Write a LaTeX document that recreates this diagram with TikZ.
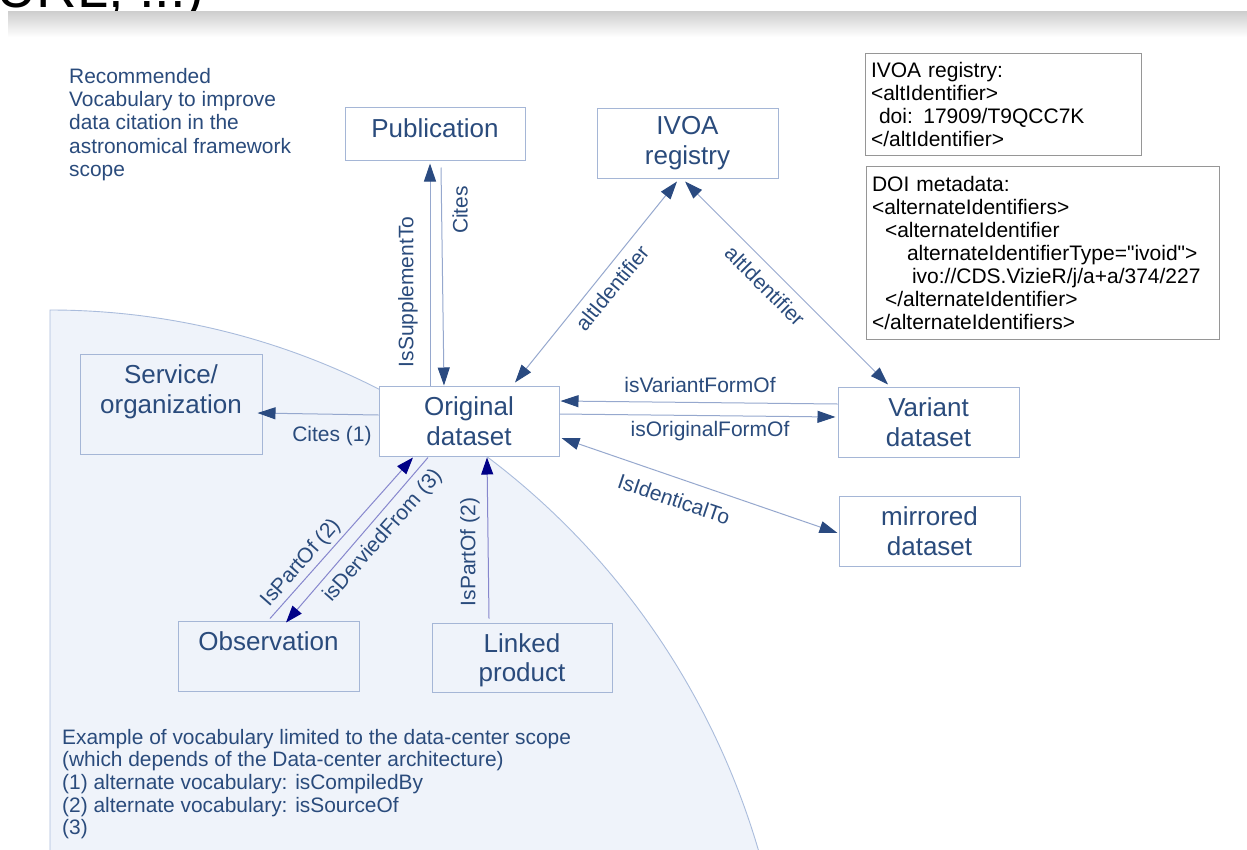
\documentclass[tikz,border=0pt]{standalone}
\usepackage{fontspec}
\setmainfont{Liberation Sans}
\newfontfamily\infofont{Liberation Sans}
\usetikzlibrary{arrows.meta,calc}
\definecolor{tblue}{RGB}{42,75,124}
\definecolor{bord}{RGB}{165,182,214}
\definecolor{regfill}{RGB}{239,243,250}
\definecolor{regedge}{RGB}{170,188,220}
\definecolor{linec}{RGB}{150,168,206}
\definecolor{headc}{RGB}{42,74,128}
\definecolor{navyl}{RGB}{135,135,205}
\definecolor{navyh}{RGB}{0,0,135}
\definecolor{infobord}{RGB}{150,150,150}
\definecolor{bandtop}{RGB}{205,205,205}
\begin{document}
\begin{tikzpicture}[x=1pt,y=-1pt,
  box/.style={draw=bord, line width=1pt, inner sep=0pt, align=center, text=tblue, font=\fontsize{26}{29.5}\selectfont},
  infobox/.style={draw=infobord, line width=1pt, fill=white, inner xsep=6pt, inner ysep=0pt, align=left, text=black, font=\infofont\fontsize{21}{23}\selectfont},
  lbl/.style={text=tblue, font=\fontsize{21}{23}\selectfont, inner sep=0pt},
  conn/.style={draw=linec, line width=1pt},
  nconn/.style={draw=navyl, line width=1pt},
  hd/.style={-{Triangle[length=18pt,width=12pt,color=headc]}},
  dhd/.style={{Triangle[length=18pt,width=12pt,color=headc]}-{Triangle[length=18pt,width=12pt,color=headc]}},
  nhd/.style={-{Triangle[length=17pt,width=12pt,color=navyh]}}
]
\useasboundingbox (0,0) rectangle (1247,849);
\fill[white] (0,0) rectangle (1247,849);

% title remnant and band
\node[anchor=base west, inner sep=0pt, text=black, font=\fontsize{56}{56}\selectfont] (title) at (-4,7) {URL, ...)};
\shade[top color=bandtop, bottom color=white] (8,11) rectangle (1247,37);

% data-center region
\fill[regfill] (50,940) -- (50,310) arc[start angle=-90, end angle=-10, x radius=740, y radius=760] -- cycle;
\draw[regedge, line width=0.9pt] (50,940) -- (50,310) arc[start angle=-90, end angle=-10, x radius=740, y radius=760];

% texts
\node[anchor=north west, inner sep=0pt, align=left, text=tblue, font=\fontsize{20.9}{23.3}\selectfont] (intro) at (69,68) {Recommended\\Vocabulary to improve\\data citation in the\\astronomical framework\\scope};
\node[anchor=north west, inner sep=0pt, align=left, text=tblue, font=\fontsize{20.9}{22.6}\selectfont] (note) at (62,729) {Example of vocabulary limited to the data-center scope\\(which depends of the Data-center architecture)\\(1) alternate vocabulary: isCompiledBy\\(2) alternate vocabulary: isSourceOf\\(3)};

% boxes
\node[box, minimum width=180pt, minimum height=53pt] (pub) at (435,133.5) {};
\node[box, draw=none] (pubt) at (435,128) {Publication};
\node[box, minimum width=181pt, minimum height=70pt] (ivoa) at (687.5,143) {IVOA\\registry};
\node[box, fill=white, minimum width=180pt, minimum height=70pt] (orig) at (469,421) {Original\\dataset};
\node[box, minimum width=182pt, minimum height=100pt] (serv) at (171,404) {Service/\\organization\\\mbox{}};
\node[box, minimum width=181pt, minimum height=70pt] (var) at (928.5,422) {Variant\\dataset};
\node[box, minimum width=181pt, minimum height=70pt] (mir) at (929.5,531) {mirrored\\dataset};
\node[box, minimum width=181pt, minimum height=70pt] (obs) at (268.5,656) {Observation\\\mbox{}};
\node[box, text depth=0pt, minimum width=180pt, minimum height=69pt] (lnk) at (522,657.5) {Linked\\product};

\node[infobox, text width=264pt, minimum width=276pt, minimum height=102pt] (reginfo) at (1003,104) {IVOA registry:\\<altIdentifier>\\\hspace*{8pt}doi: 17909/T9QCC7K\\</altIdentifier>};
\node[infobox, text width=341pt, minimum width=353pt, minimum height=173pt] (doiinfo) at (1042.5,252.5) {DOI metadata:\\<alternateIdentifiers>\\\hspace*{13pt}<alternateIdentifier\\\hspace*{35pt}alternateIdentifierType="ivoid">\\\hspace*{40pt}ivo://CDS.VizieR/j/a+a/374/227\\\hspace*{13pt}</alternateIdentifier>\\</alternateIdentifiers>};

% connectors
\draw[conn,hd] ($(orig.north)+(-39,0)$) -- ($(pub.south)+(-5,3)$);
\draw[conn,hd] ($(pub.south)+(6,7)$) -- ($(orig.north)+(-25,0)$);
\draw[conn,dhd] ($(orig.north)+(46,-3)$) -- ($(ivoa.south)+(-10.5,3)$);
\draw[conn,dhd] ($(ivoa.south)+(-2.5,3)$) -- ($(var.north)+(-40.5,-2)$);
\draw[conn,hd] ($(var.west)+(0,-18)$) -- ($(orig.east)+(1,-20)$);
\draw[conn,hd] ($(orig.east)+(0,-7)$) -- ($(var.west)+(-2,-5)$);
\draw[conn,dhd] ($(orig.east)+(2,17)$) -- ($(mir.west)+(-1,2)$);
\draw[conn,hd] ($(orig.west)+(0,-6)$) -- ($(serv.east)+(-5,9)$);
\draw[nconn,nhd] ($(obs.north)+(1.5,-2)$) -- ($(orig.south)+(-56,1)$);
\draw[nconn,nhd] ($(orig.south)+(-41,1)$) -- ($(obs.north)+(17.5,2)$);
\draw[nconn,nhd] ($(lnk.north)+(-33,-4)$) -- ($(orig.south)+(18,1)$);

% labels
\node[lbl, rotate=90] (lSupp) at (408,292) {IsSupplementTo};
\node[lbl, rotate=90] (lCites) at (460,210) {Cites};
\node[lbl, rotate=50.7] (lAltA) at (612,288) {altIdentifier};
\node[lbl, rotate=-45] (lAltB) at (765,286) {altIdentifier};
\node[lbl] (lVar) at (700,385) {isVariantFormOf};
\node[lbl] (lOrig) at (710,431) {isOriginalFormOf};
\node[lbl, rotate=-18.7] (lIdent) at (674,499) {IsIdenticalTo};
\node[lbl] (lCitesB) at (332,436) {Cites (1)};
\node[lbl, rotate=48.6] (lPartA) at (301,563) {IsPartOf (2)};
\node[lbl, rotate=48.6] (lDer) at (383,536) {isDerviedFrom (3)};
\node[lbl, rotate=90] (lPartB) at (470,552) {IsPartOf (2)};
\end{tikzpicture}
\end{document}
